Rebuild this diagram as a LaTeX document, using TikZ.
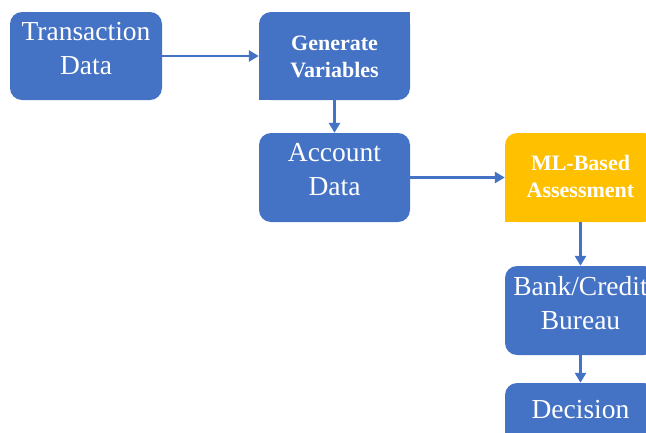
\documentclass[tikz,border=0pt]{standalone}
\usepackage{fontspec}
\setmainfont{Liberation Serif}
\usetikzlibrary{arrows.meta}
\definecolor{boxblue}{HTML}{4472C4}
\definecolor{boxgold}{HTML}{FFC000}
\begin{document}
\begin{tikzpicture}[x=1pt,y=-1pt,
        box/.style={fill=boxblue,rounded corners=12pt,minimum width=151pt,minimum height=89pt,inner sep=0pt},
        txt/.style={text=white,align=center,font=\fontsize{27.5}{34.5}\selectfont},
        btxt/.style={text=white,align=center,font=\fontsize{22}{27}\selectfont\bfseries},
        arr/.style={draw=boxblue,line width=2.5pt,-{Triangle[length=10pt,width=11pt]}}]
        \useasboundingbox (0,0) rectangle (646,432);
        \clip (0,0) rectangle (646,432);
        \node[box,minimum width=152pt,minimum height=88pt] (trans) at (86,56) {};
        \node[box,minimum height=88pt] (gen) at (334.5,56) {};
        \fill[boxblue] (gen.north east) rectangle ++(-14,14);
        \fill[boxblue] (gen.south west) rectangle ++(14,-14);
        \node[box] (acc) at (334.5,177.5) {};
        \node[box,fill=boxgold] (ml) at (580.5,177.5) {};
        \fill[boxgold] (ml.south west) rectangle ++(14,-14);
        \node[box] (bank) at (580.5,310.5) {};
        \node[box] (dec) at (580.5,427.5) {};
        \node[txt] (transt) at (86,48.5) {Transaction\\Data};
        \node[btxt] (gent) at (334.5,56.4) {Generate\\Variables};
        \node[txt] (acct) at (334.5,169.5) {Account\\Data};
        \node[btxt] (mlt) at (580.5,176.5) {ML-Based\\Assessment};
        \node[txt] (bankt) at (580.5,303) {Bank/Credit\\Bureau};
        \node[txt,anchor=base] (dect) at (580.5,418) {Decision};
        \draw[arr] (trans) -- (gen);
        \draw[arr] (gen) -- (acc);
        \draw[arr] (acc) -- (ml);
        \draw[arr] (ml) -- (bank);
        \draw[arr] (bank) -- (dec);
\end{tikzpicture}
\end{document}
